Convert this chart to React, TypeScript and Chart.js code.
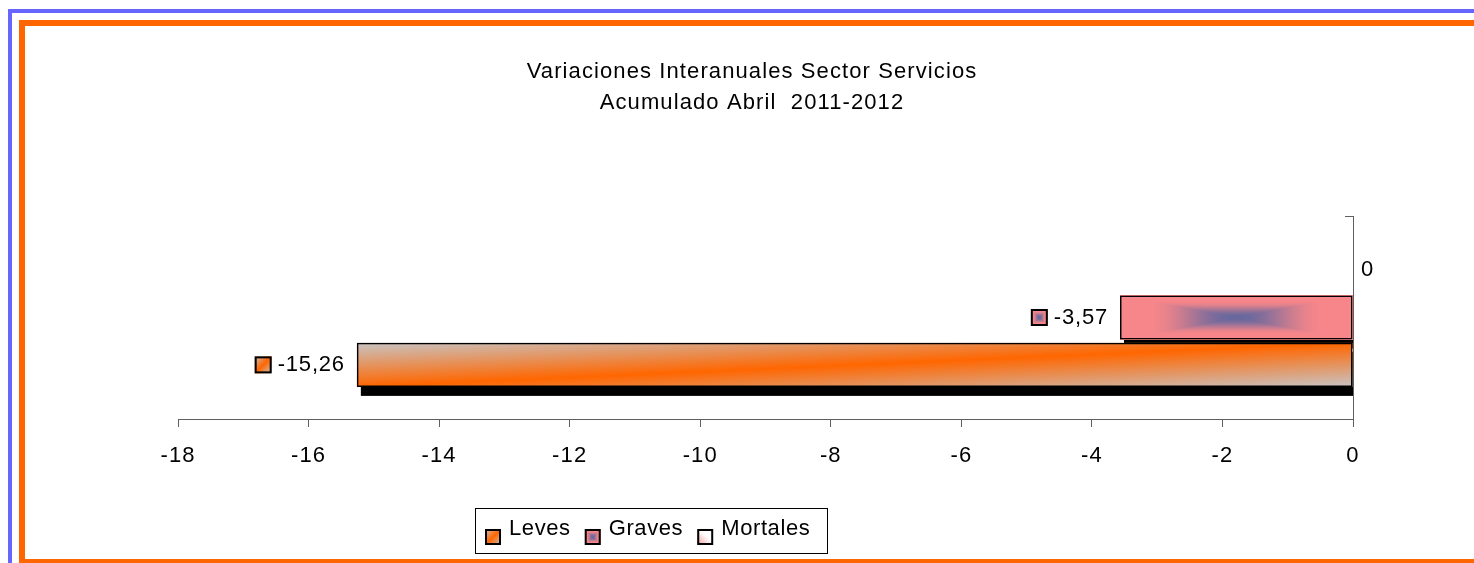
import React, { useEffect, useRef } from 'react';
import { Chart, registerables } from 'chart.js';

Chart.register(...registerables);

// ---- data ----
const categories = ['Servicios'];
const legendOrder = ['Leves', 'Graves', 'Mortales'];
const levesValues = [-15.26];
const gravesValues = [-3.57];
const mortalesValues = [0];
const xMin = -18;
const xMax = 0;
const xStep = 2;
const titleLines = ['Variaciones Interanuales Sector Servicios', 'Acumulado Abril  2011-2012'];

const FONT = '"Liberation Sans", Arial, Helvetica, sans-serif';
const ORANGE = '#ff6600';
const GRAY = '#c8c4c4';
const PINK = [246, 134, 138];
const BLUE = [104, 104, 158];

type Kind = 'leves' | 'graves' | 'mortales';
const kindOf: Record<string, Kind> = { Leves: 'leves', Graves: 'graves', Mortales: 'mortales' };

function smoothstep(a: number, b: number, t: number) {
  const u = Math.min(1, Math.max(0, (t - a) / (b - a)));
  return u * u * (3 - 2 * u);
}

function rectGradientCanvas(w: number, h: number, dpr: number) {
  const W = Math.max(1, Math.round(w * dpr));
  const H = Math.max(1, Math.round(h * dpr));
  const c = document.createElement('canvas');
  c.width = W;
  c.height = H;
  const g = c.getContext('2d')!;
  const img = g.createImageData(W, H);
  const cx = W / 2;
  const cy = H / 2;
  for (let y = 0; y < H; y++) {
    for (let x = 0; x < W; x++) {
      const tx = Math.abs(x + 0.5 - cx) / (W / 2);
      const ty = Math.abs(y + 0.5 - cy) / (H / 2);
      const t = Math.max(tx, ty);
      const s = smoothstep(0.02, 0.74, t);
      const i = (y * W + x) * 4;
      img.data[i] = BLUE[0] + (PINK[0] - BLUE[0]) * s;
      img.data[i + 1] = BLUE[1] + (PINK[1] - BLUE[1]) * s;
      img.data[i + 2] = BLUE[2] + (PINK[2] - BLUE[2]) * s;
      img.data[i + 3] = 255;
    }
  }
  g.putImageData(img, 0, 0);
  return c;
}

function fillKind(ctx: CanvasRenderingContext2D, kind: Kind, x: number, y: number, w: number, h: number, dpr: number) {
  if (w <= 0.5 || h <= 0.5) return;
  if (kind === 'leves') {
    const cx = x + w / 2;
    const cy = y + h / 2;
    const f = (w * h) / (w * w + h * h);
    const g = ctx.createLinearGradient(cx - h * f, cy - w * f, cx + h * f, cy + w * f);
    g.addColorStop(0, GRAY);
    g.addColorStop(0.5, ORANGE);
    g.addColorStop(1, GRAY);
    ctx.fillStyle = g;
    ctx.fillRect(x, y, w, h);
  } else if (kind === 'graves') {
    ctx.drawImage(rectGradientCanvas(w, h, dpr), x, y, w, h);
  } else {
    const g = ctx.createLinearGradient(x, y + h, x + w, y);
    g.addColorStop(0, '#f29494');
    g.addColorStop(0.55, '#ffffff');
    g.addColorStop(1, '#ffffff');
    ctx.fillStyle = g;
    ctx.fillRect(x, y, w, h);
  }
}

function drawKey(ctx: CanvasRenderingContext2D, kind: Kind, x: number, y: number, s: number, dpr: number) {
  fillKind(ctx, kind, x, y, s, s, dpr);
  ctx.lineWidth = 2;
  ctx.strokeStyle = '#000';
  ctx.strokeRect(x + 1, y + 1, s - 2, s - 2);
}

function fmt(v: number) {
  return v === 0 ? '0' : v.toFixed(2).replace('.', ',');
}

function barRects(chart: any) {
  const out: any[] = [];
  chart.data.datasets.forEach((ds: any, di: number) => {
    const meta = chart.getDatasetMeta(di);
    meta.data.forEach((el: any, i: number) => {
      const p = el.getProps(['x', 'y', 'base', 'height'], true);
      const left = Math.min(p.x, p.base);
      const right = Math.max(p.x, p.base);
      out.push({
        kind: kindOf[ds.label],
        value: ds.data[i],
        left,
        right,
        y: p.y,
        top: p.y - p.height / 2,
        h: p.height,
      });
    });
  });
  return out;
}

const excelPlugin = {
  id: 'excelLook',
  beforeUpdate(chart: any) {
    (chart.ctx as any).letterSpacing = '1.1px';
  },
  beforeDraw(chart: any) {
    (chart.ctx as any).letterSpacing = '1.1px';
  },
  beforeDatasetsDraw(chart: any) {
    const { ctx, chartArea } = chart;
    const dpr = chart.currentDevicePixelRatio || 1;
    const rects = barRects(chart);
    ctx.save();
    ctx.beginPath();
    ctx.rect(chartArea.left, chartArea.top, chartArea.right - chartArea.left, chartArea.bottom - chartArea.top);
    ctx.clip();
    rects.forEach((r) => {
      if (r.right - r.left > 0.5) {
        ctx.fillStyle = '#000';
        ctx.fillRect(r.left + 4, r.top + 9, r.right - r.left, r.h);
      }
    });
    rects.forEach((r) => fillKind(ctx, r.kind, r.left, r.top, r.right - r.left, r.h, dpr));
    ctx.restore();
  },
  afterDatasetsDraw(chart: any) {
    const { ctx } = chart;
    const dpr = chart.currentDevicePixelRatio || 1;
    const rects = barRects(chart);
    ctx.save();
    (ctx as any).letterSpacing = '0.8px';
    ctx.font = `22px ${FONT}`;
    ctx.fillStyle = '#000';
    ctx.textBaseline = 'middle';
    rects.forEach((r) => {
      const text = fmt(r.value);
      if (r.value === 0) {
        ctx.textAlign = 'left';
        ctx.fillStyle = '#000';
        ctx.fillText(text, r.right + 8, r.y);
      } else {
        ctx.textAlign = 'right';
        ctx.fillStyle = '#000';
        const tx = r.left - 12;
        ctx.fillText(text, tx, r.y);
        const tw = ctx.measureText(text).width;
        drawKey(ctx, r.kind, tx - tw - 6 - 17, r.y - 8.5, 17, dpr);
      }
    });
    ctx.restore();
  },
  afterDraw(chart: any) {
    const { ctx } = chart;
    const dpr = chart.currentDevicePixelRatio || 1;
    ctx.save();
    (ctx as any).letterSpacing = '0.6px';
    ctx.font = `22px ${FONT}`;
    const boxL = 450;
    const boxT = 482;
    const boxW = 352;
    const boxH = 45;
    ctx.strokeStyle = '#000';
    ctx.lineWidth = 1;
    ctx.strokeRect(boxL + 0.5, boxT + 0.5, boxW, boxH);
    let x = boxL + 10;
    legendOrder.forEach((name) => {
      drawKey(ctx, kindOf[name], x, boxT + 21, 16, dpr);
      ctx.fillStyle = '#000';
      ctx.textAlign = 'left';
      ctx.textBaseline = 'middle';
      ctx.fillText(name, x + 24, boxT + 20.5);
      x += 24 + ctx.measureText(name).width + 14;
    });
    ctx.restore();
  },
};

const AXIS = '#606060';

export default function App() {
  const ref = useRef<HTMLCanvasElement>(null);

  useEffect(() => {
    document.documentElement.style.overflow = 'hidden';
    const chart = new Chart(ref.current!, {
      type: 'bar',
      data: {
        labels: categories,
        datasets: [
          {
            label: 'Mortales',
            data: mortalesValues,
            xAxisID: 'x',
            yAxisID: 'y',
            backgroundColor: 'rgba(0,0,0,0)',
            borderColor: '#000',
            borderWidth: 0,
            borderSkipped: false,
          },
          {
            label: 'Graves',
            data: gravesValues,
            xAxisID: 'x',
            yAxisID: 'y',
            backgroundColor: 'rgba(0,0,0,0)',
            borderColor: '#000',
            borderWidth: 1.5,
            borderSkipped: false,
          },
          {
            label: 'Leves',
            data: levesValues,
            xAxisID: 'x',
            yAxisID: 'y',
            backgroundColor: 'rgba(0,0,0,0)',
            borderColor: '#000',
            borderWidth: 1.5,
            borderSkipped: false,
          },
        ],
      },
      options: {
        indexAxis: 'y',
        responsive: false,
        animation: false,
        events: [],
        datasets: {
          bar: { barPercentage: 0.93, categoryPercentage: 0.7 },
        },
        layout: { padding: { left: 0, right: 0, top: 0, bottom: 90 } },
        scales: {
          y: {
            type: 'category',
            axis: 'y',
            position: { x: 0 },
            offset: true,
            grid: {
              offset: true,
              drawOnChartArea: false,
              drawTicks: true,
              tickLength: 8,
              color: AXIS,
              lineWidth: 1,
            },
            border: { display: true, color: AXIS, width: 1 },
            ticks: { display: false },
          },
          x: {
            type: 'linear',
            position: 'bottom',
            min: xMin,
            max: xMax,
            ticks: {
              stepSize: xStep,
              color: '#000',
              padding: 16,
              font: { family: FONT, size: 22 },
            },
            grid: {
              drawOnChartArea: false,
              drawTicks: true,
              tickLength: 8,
              color: AXIS,
              lineWidth: 1,
            },
            border: { display: true, color: AXIS, width: 1 },
            afterFit: (s: any) => {
              s.height = 50;
            },
          },
          padL: {
            type: 'linear',
            axis: 'y',
            position: 'left',
            display: true,
            grid: { display: false },
            border: { display: false },
            ticks: { display: false },
            afterFit: (s: any) => {
              s.width = 153;
            },
          },
          padR: {
            type: 'linear',
            axis: 'y',
            position: 'right',
            display: true,
            grid: { display: false },
            border: { display: false },
            ticks: { display: false },
            afterFit: (s: any) => {
              s.width = 126;
            },
          },
        } as any,
        plugins: {
          legend: { display: false },
          tooltip: { enabled: false },
          title: {
            display: true,
            text: titleLines,
            color: '#000',
            align: 'center',
            font: { family: FONT, size: 22, weight: 'normal', lineHeight: '31px' } as any,
            padding: { top: 30.5, bottom: 97.5 },
          },
        },
      } as any,
      plugins: [excelPlugin],
    });
    return () => chart.destroy();
  }, []);

  return (
    <div style={{ position: 'fixed', left: 0, top: 0, right: 0, bottom: 0, overflow: 'hidden', background: '#fff' }}>
      <div
        style={{
          position: 'absolute',
          left: 8,
          top: 9,
          width: 2000,
          height: 2000,
          borderTop: '4px solid #6666ff',
          borderLeft: '4px solid #6666ff',
          paddingTop: 7,
          paddingLeft: 7,
          boxSizing: 'content-box',
        }}
      >
        <div style={{ border: '6px solid #ff6600', width: 1454, height: 533, background: '#fff' }}>
          <canvas ref={ref} width={1454} height={533} style={{ display: 'block' }} />
        </div>
      </div>
    </div>
  );
}
